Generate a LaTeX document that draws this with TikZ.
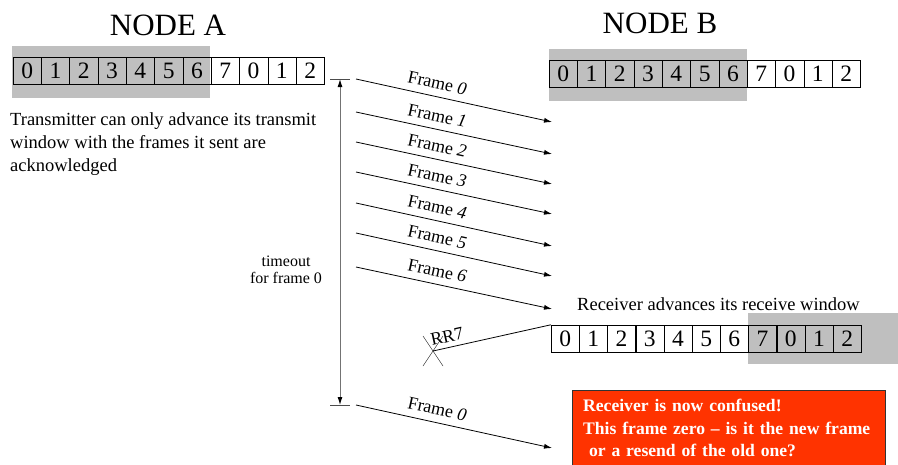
\documentclass[tikz,border=0pt]{standalone}
\usepackage{fontspec}
\setmainfont{Liberation Serif}
\usetikzlibrary{arrows.meta}
\definecolor{alarm}{HTML}{FF3300}

\begin{document}
\begin{tikzpicture}[x=1pt,y=1pt,
  cell/.style={draw,inner sep=0,minimum width=28.3pt,minimum height=27pt,font=\fontsize{23.5}{23.5}\selectfont},
  title/.style={font=\fontsize{31}{31}\selectfont},
  txt/.style={font=\fontsize{18.5}{23}\selectfont,inner sep=0,align=left},
  frarrow/.style={line width=0.8pt,-{Latex[length=8pt,width=5pt]}},
  flbl/.style={sloped,above=6pt,pos=0.4,inner sep=1pt,font=\fontsize{18}{18}\selectfont}
]
\useasboundingbox (0,0) rectangle (898,-464);

% windows
\fill[black!25] (12,-46) rectangle (210,-98);
\fill[black!25] (549,-49) rectangle (747,-101);
\fill[black!25] (748,-313) rectangle (898,-364);

\node[title] (nodeA) at (168,-25) {NODE A};
\node[title] (nodeB) at (660,-23) {NODE B};

\foreach \d [count=\i from 0] in {0,1,2,3,4,5,6,7,0,1,2} {
  \node[cell] (a\i) at (27.15+28.3*\i,-70.7) {\d};
  \node[cell] (b\i) at (563.15+28.3*\i,-73.5) {\d};
  \node[cell] (c\i) at (565.15+28.2*\i,-338.5) {\d};
}

\node[txt,anchor=north west] (tx) at (10,-112)
  {Transmitter can only advance its transmit\\window with the frames it sent are\\acknowledged};

% frames
\foreach \i/\ys/\ye/\n in {0/79/122/0,1/112/154/1,2/142/184/2,3/172/214/3,
    4/203/246/4,5/233/276/5,6/267/309/6,7/405/448/0} {
  \coordinate (s\i) at (356,-\ys);
  \coordinate (e\i) at (552,-\ye);
  \draw[frarrow] (s\i) -- node[flbl] {Frame \textit{\n}} (e\i);
}

% timeout
\coordinate (t1) at (340,-79);
\coordinate (t2) at (340,-405);
\draw[black!55,line width=1pt,{Latex[color=black,length=8pt,width=5pt]}-{Latex[color=black,length=8pt,width=5pt]}] (t1) -- (t2);
\draw[black!70] ([xshift=-10pt]t1) -- ([xshift=10pt]t1);
\draw[black!70] ([xshift=-10pt]t2) -- ([xshift=10pt]t2);
\node[align=center,font=\fontsize{16}{17}\selectfont] (tout) at (286,-270) {timeout\\for frame 0};

% lost RR7
\coordinate (lost) at (433,-351);
\draw (lost) +(-10,-15) -- +(10,15);
\draw (lost) +(-10,15) -- +(10,-15);
\draw[line width=0.8pt] (c0.north west) -- node[sloped,above=4pt,pos=0.86,inner sep=1pt,font=\fontsize{18}{18}\selectfont] {RR7} (lost);

\node[txt,anchor=base west] (radv) at (577,-310) {Receiver advances its receive window};

\node[anchor=north west,fill=alarm,draw=black!80,text=white,align=left,
  inner xsep=11pt,inner ysep=9pt,text width=291pt,
  font=\bfseries\fontsize{17.6}{22.5}\selectfont] (conf) at (572,-390)
  {Receiver is now confused!\\This frame zero -- is it the new frame\\\ or a resend of the old one?};
\end{tikzpicture}
\end{document}
